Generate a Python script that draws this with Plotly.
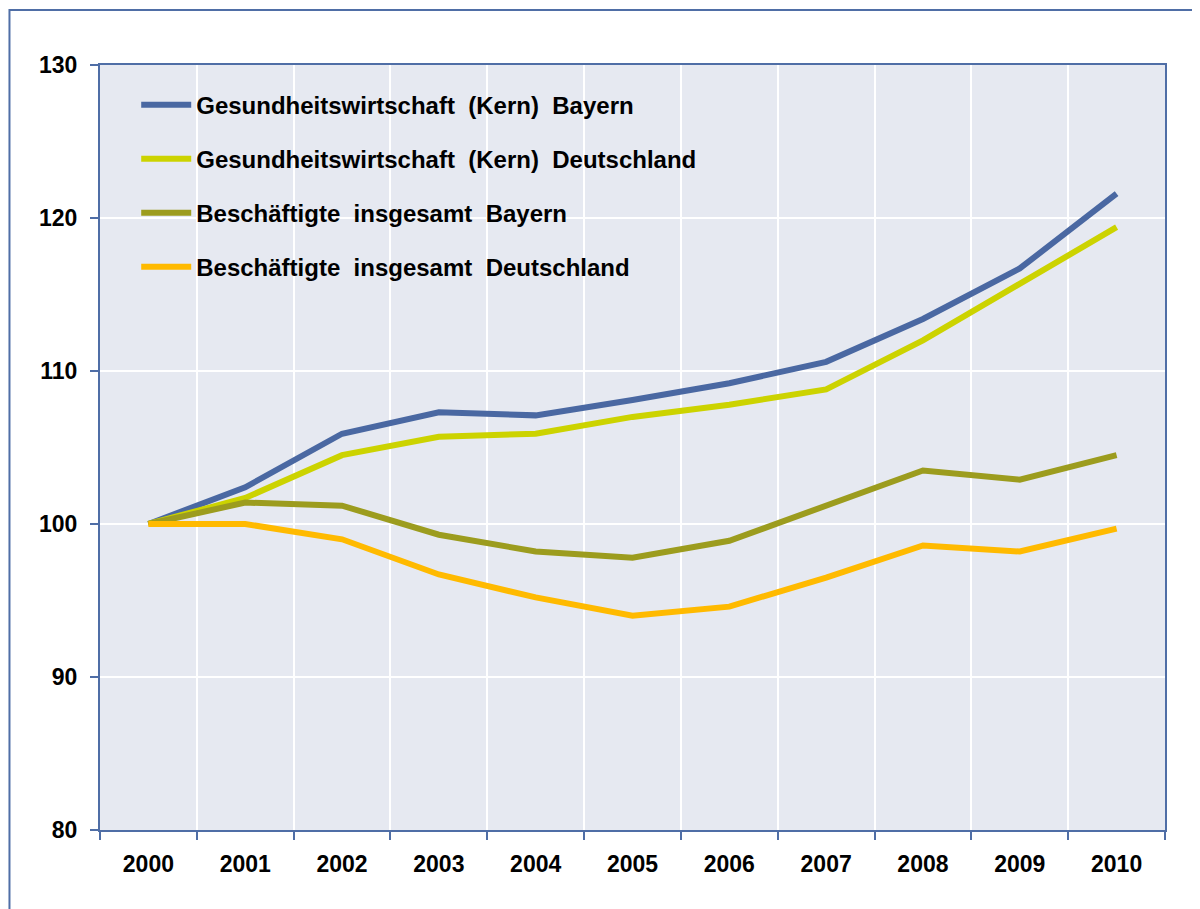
import plotly.graph_objects as go

# Jahre (Kategorien)
jahre = ["2000", "2001", "2002", "2003", "2004", "2005", "2006", "2007", "2008", "2009", "2010"]

# Indexwerte, 2000 = 100
gw_bayern = [100.0, 102.4, 105.9, 107.3, 107.1, 108.1, 109.2, 110.6, 113.4, 116.7, 121.6]
gw_deutschland = [100.0, 101.7, 104.5, 105.7, 105.9, 107.0, 107.8, 108.8, 112.0, 115.7, 119.4]
besch_bayern = [100.0, 101.4, 101.2, 99.3, 98.2, 97.8, 98.9, 101.2, 103.5, 102.9, 104.5]
besch_deutschland = [100.0, 100.0, 99.0, 96.7, 95.2, 94.0, 94.6, 96.5, 98.6, 98.2, 99.7]

namen = [
    "Gesundheitswirtschaft  (Kern)  Bayern",
    "Gesundheitswirtschaft  (Kern)  Deutschland",
    "Beschäftigte  insgesamt  Bayern",
    "Beschäftigte  insgesamt  Deutschland",
]
farben = ["#4A68A2", "#CCD300", "#9C9C1E", "#FFBA00"]
reihen = [gw_bayern, gw_deutschland, besch_bayern, besch_deutschland]

achse = "#4F6EA6"
tick_schrift = dict(family="Liberation Sans, Arial", size=23, color="black", weight="bold")
leg_schrift = dict(family="Liberation Sans, Arial", size=24, color="black", weight="bold")

fig = go.Figure()
legenden = ["legend", "legend2", "legend3", "legend4"]
for i, (name, farbe, werte) in enumerate(zip(namen, farben, reihen)):
    fig.add_trace(go.Scatter(x=jahre, y=werte, name=name, mode="lines",
                             line=dict(color=farbe, width=6),
                             legend=legenden[i]))

# Legende: jede Zeile als eigene Legende, damit der Zeilenabstand passt
legend_layout = {}
for i, key in enumerate(legenden):
    legend_layout[key] = dict(x=0.034, y=0.977 - i * 0.0706, xanchor="left", yanchor="top",
                              bgcolor="rgba(0,0,0,0)", font=leg_schrift, itemwidth=50)

fig.update_layout(
    width=1200, height=909,
    margin=dict(l=92, r=43, t=57, b=87),
    plot_bgcolor="#E6E9F1",
    paper_bgcolor="white",
    showlegend=True,
    **legend_layout,
    xaxis=dict(type="category", range=[-0.5, 10.5], tickson="boundaries", ticks="outside", ticklen=8,
               tickcolor=achse, tickwidth=2, showgrid=True, gridcolor="white", gridwidth=2,
               showline=True, linecolor=achse, linewidth=2, mirror=True,
               tickfont=tick_schrift, ticklabelstandoff=12),
    yaxis=dict(range=[80, 130], dtick=10, ticks="outside", ticklen=8,
               tickcolor=achse, tickwidth=2, showgrid=True, gridcolor="white", gridwidth=2,
               showline=True, linecolor=achse, linewidth=2, mirror=True,
               tickfont=tick_schrift, zeroline=False, ticklabelstandoff=8),
    shapes=[dict(type="rect", xref="paper", yref="paper",
                 x0=-0.085, x1=1.2, y0=-0.3, y1=1.072,
                 line=dict(color=achse, width=2), layer="below")],
)

fig.write_html("out.html")
